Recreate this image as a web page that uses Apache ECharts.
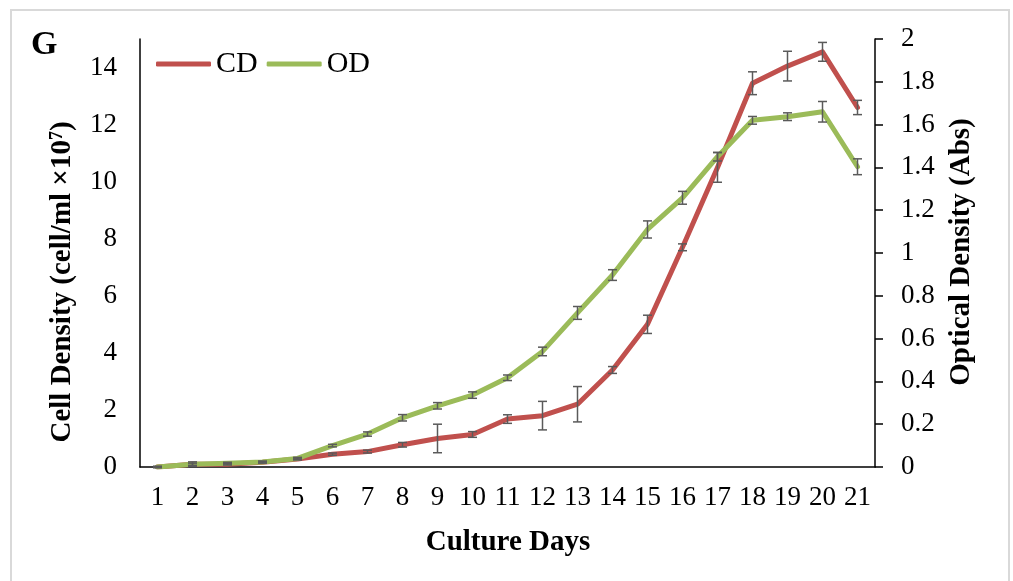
<!DOCTYPE html>
<html>
<head>
<meta charset="utf-8">
<style>
  html, body { margin: 0; padding: 0; background: #ffffff; }
  #chart { width: 1013px; height: 581px; }
</style>
<script src="https://cdn.jsdelivr.net/npm/echarts@6/dist/echarts.min.js"></script>
</head>
<body>
<div id="chart"></div>
<script>
// Culture days on the x axis
const days = ['1','2','3','4','5','6','7','8','9','10','11','12','13','14','15','16','17','18','19','20','21'];

// Cell density (cell/ml x10^7) and its standard error
const cd    = [0, 0.1, 0.1, 0.17, 0.28, 0.45, 0.54, 0.78, 1.0, 1.14, 1.68, 1.8, 2.2, 3.4, 5.0, 7.7, 10.5, 13.45, 14.05, 14.55, 12.6];
const cdErr = [0.02, 0.08, 0.03, 0.03, 0.03, 0.04, 0.05, 0.08, 0.5, 0.1, 0.15, 0.5, 0.62, 0.12, 0.32, 0.12, 0.52, 0.4, 0.52, 0.33, 0.25];

// Optical density (Abs) and its standard error
const od    = [0, 0.013, 0.018, 0.023, 0.04, 0.1, 0.154, 0.23, 0.286, 0.336, 0.417, 0.54, 0.72, 0.897, 1.11, 1.258, 1.45, 1.62, 1.637, 1.66, 1.403];
const odErr = [0.003, 0.005, 0.004, 0.004, 0.005, 0.006, 0.01, 0.015, 0.015, 0.015, 0.013, 0.02, 0.03, 0.025, 0.04, 0.03, 0.02, 0.018, 0.018, 0.048, 0.037];

const FONT = "'Liberation Serif', 'Times New Roman', serif";
const RED = '#C0504D';
const GREEN = '#9BBB59';

function errData(vals, errs) {
  return vals.map((v, i) => [i, v, errs[i]]);
}

// Vertical error bar with caps at both ends
function renderErr(params, api) {
  const i = api.value(0);
  const v = api.value(1);
  const e = api.value(2);
  const top = api.coord([i, v + e]);
  const bot = api.coord([i, v - e]);
  const half = 4.5;
  const style = { stroke: '#5a5a5a', lineWidth: 1.5 };
  return {
    type: 'group',
    children: [
      { type: 'line', shape: { x1: top[0], y1: top[1], x2: bot[0], y2: bot[1] }, style },
      { type: 'line', shape: { x1: top[0] - half, y1: top[1], x2: top[0] + half, y2: top[1] }, style },
      { type: 'line', shape: { x1: bot[0] - half, y1: bot[1], x2: bot[0] + half, y2: bot[1] }, style }
    ]
  };
}

const chart = echarts.init(document.getElementById('chart'), null, { renderer: 'canvas' });

chart.setOption({
  animation: false,
  textStyle: { fontFamily: FONT, color: '#000' },
  grid: { left: 140, right: 138, top: 39, bottom: 114, containLabel: false },
  legend: {
    left: 151,
    top: 44,
    itemWidth: 55,
    itemHeight: 5,
    itemGap: 9,
    icon: 'roundRect',
    textStyle: { fontFamily: FONT, fontSize: 30, color: '#000' },
    data: ['CD', 'OD']
  },
  xAxis: {
    type: 'category',
    data: days,
    boundaryGap: true,
    axisLine: { lineStyle: { color: '#000', width: 1.5 } },
    axisTick: { show: false },
    axisLabel: { fontFamily: FONT, fontSize: 27, color: '#000', margin: 17, interval: 0 },
    splitLine: { show: false }
  },
  yAxis: [
    {
      type: 'value',
      min: 0,
      max: 15,
      interval: 2,
      axisLine: { show: true, lineStyle: { color: '#000', width: 1.5 } },
      axisTick: { show: false },
      splitLine: { show: false },
      axisLabel: {
        fontFamily: FONT, fontSize: 27, color: '#000', margin: 23,
        formatter: v => (v === 15 ? '' : String(v))
      }
    },
    {
      type: 'value',
      min: 0,
      max: 2,
      interval: 0.2,
      position: 'right',
      axisLine: { show: true, lineStyle: { color: '#000', width: 1.5 } },
      axisTick: { show: true, length: 8, inside: false, lineStyle: { color: '#000', width: 1.5 } },
      splitLine: { show: false },
      axisLabel: {
        fontFamily: FONT, fontSize: 27, color: '#000', margin: 26,
        formatter: v => String(Math.round(v * 10) / 10)
      }
    }
  ],
  series: [
    {
      name: 'CD',
      type: 'line',
      yAxisIndex: 0,
      data: cd,
      symbol: 'none',
      color: RED,
      lineStyle: { color: RED, width: 5, cap: 'round', join: 'round' },
      z: 2
    },
    {
      name: 'OD',
      type: 'line',
      yAxisIndex: 1,
      data: od,
      symbol: 'none',
      color: GREEN,
      lineStyle: { color: GREEN, width: 5, cap: 'round', join: 'round' },
      z: 3
    },
    {
      name: 'CD error',
      type: 'custom',
      yAxisIndex: 0,
      data: errData(cd, cdErr),
      renderItem: renderErr,
      encode: { x: 0, y: 1 },
      z: 4,
      silent: true
    },
    {
      name: 'OD error',
      type: 'custom',
      yAxisIndex: 1,
      data: errData(od, odErr),
      renderItem: renderErr,
      encode: { x: 0, y: 1 },
      z: 4,
      silent: true
    }
  ],
  graphic: [
    {
      type: 'rect',
      shape: { x: 11, y: 10, width: 998, height: 580 },
      style: { fill: 'none', stroke: '#d9d9d9', lineWidth: 2 },
      silent: true
    },
    {
      type: 'text',
      left: 31,
      top: 28,
      style: { text: 'G', font: 'bold 34px ' + FONT, fill: '#000' }
    },
    {
      type: 'text',
      x: 508,
      y: 543,
      style: {
        text: 'Culture Days',
        font: 'bold 29px ' + FONT,
        fill: '#000',
        align: 'center',
        verticalAlign: 'middle'
      }
    },
    {
      type: 'text',
      x: 63,
      y: 282,
      rotation: Math.PI / 2,
      style: {
        text: '{a|Cell Density (cell/ml ×10}{s|7}{a|)}',
        align: 'center',
        verticalAlign: 'middle',
        fill: '#000',
        rich: {
          a: { font: 'bold 29px ' + FONT, fill: '#000' },
          s: { font: 'bold 18px ' + FONT, fill: '#000', verticalAlign: 'top', padding: [0, 0, 10, 0] }
        }
      }
    },
    {
      type: 'text',
      x: 962,
      y: 252,
      rotation: Math.PI / 2,
      style: {
        text: 'Optical Density (Abs)',
        font: 'bold 29px ' + FONT,
        fill: '#000',
        align: 'center',
        verticalAlign: 'middle'
      }
    }
  ]
});
</script>
</body>
</html>
